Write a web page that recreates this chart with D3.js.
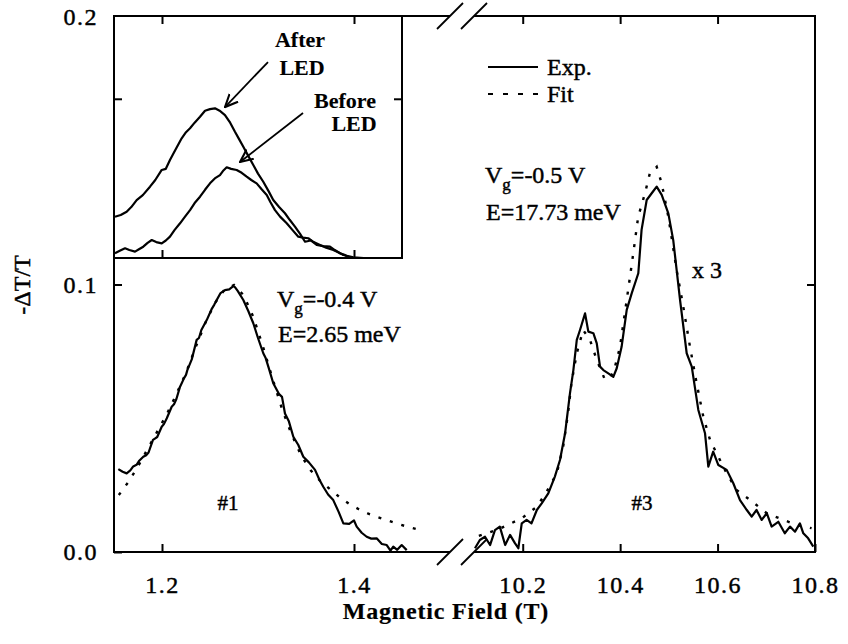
<!DOCTYPE html>
<html><head><meta charset="utf-8">
<script src="https://cdn.jsdelivr.net/npm/d3@7"></script>
<style>
body{margin:0;background:#fff;}
svg{display:block;font-family:"Liberation Serif","Times New Roman",serif;}
svg text{fill:#000;stroke:#000;stroke-width:0.45px;}
</style></head><body>
<svg id="c" width="848" height="644"></svg>
<script>
// ---------- data ----------
// Peak #1 (Vg=-0.4 V), experiment
const fieldA = [1.1545,1.1590,1.1632,1.1670,1.1700,1.1735,1.1760,1.1805,1.1835,1.1860,1.1906,1.1930,1.1950,1.1997,1.2020,1.2050,1.2101,1.2125,1.2150,1.2188,1.2230,1.2250,1.2264,1.2310,1.2361,1.2385,1.2410,1.2466,1.2520,1.2545,1.2570,1.2610,1.2656,1.2700,1.2743,1.2760,1.2790,1.2847,1.2900,1.2951,1.3000,1.3055,1.3080,1.3110,1.3159,1.3220,1.3250,1.3281,1.3320,1.3368,1.3420,1.3472,1.3530,1.3594,1.3640,1.3680,1.3730,1.3784,1.3840,1.3889,1.3950,1.4000,1.4028,1.4080,1.4132,1.4180,1.4236,1.4290,1.4341,1.4380,1.4409,1.4450,1.4497,1.4549];
const signalA = [0.0310,0.0300,0.0294,0.0305,0.0320,0.0326,0.0340,0.0356,0.0362,0.0372,0.0419,0.0425,0.0430,0.0468,0.0478,0.0500,0.0543,0.0552,0.0572,0.0618,0.0650,0.0662,0.0680,0.0720,0.0793,0.0800,0.0830,0.0867,0.0910,0.0925,0.0942,0.0968,0.0979,0.0982,0.0994,0.0990,0.0975,0.0942,0.0900,0.0855,0.0800,0.0743,0.0725,0.0690,0.0631,0.0590,0.0580,0.0518,0.0490,0.0431,0.0400,0.0356,0.0335,0.0307,0.0270,0.0244,0.0215,0.0194,0.0150,0.0107,0.0105,0.0118,0.0095,0.0072,0.0057,0.0050,0.0051,0.0030,0.0026,0.0005,0.0020,0.0008,0.0026,0.0007];
// Peak #1 fit
const fitFieldA = [1.155,1.165,1.175,1.185,1.195,1.205,1.215,1.225,1.235,1.245,1.255,1.265,1.275,1.285,1.295,1.305,1.315,1.325,1.335,1.345,1.355,1.365,1.375,1.385,1.395,1.405,1.415,1.425,1.435,1.445,1.455,1.465];
const fitA = [0.0213,0.0262,0.0320,0.0385,0.0450,0.0515,0.0590,0.0670,0.0765,0.0855,0.0930,0.0980,0.0998,0.0960,0.0880,0.0770,0.0650,0.0535,0.0440,0.0360,0.0305,0.0265,0.0235,0.0205,0.0180,0.0160,0.0143,0.0130,0.0118,0.0106,0.0095,0.0086];
// Peak #3 (Vg=-0.5 V, x3), experiment
const fieldB = [10.102,10.112,10.1226,10.133,10.143,10.153,10.164,10.174,10.184,10.191,10.198,10.208,10.218,10.229,10.239,10.2525,10.266,10.2765,10.287,10.297,10.304,10.311,10.3176,10.328,10.3347,10.345,10.352,10.3587,10.3655,10.3757,10.386,10.393,10.403,10.4135,10.4237,10.4373,10.444,10.4545,10.4648,10.475,10.4853,10.4989,10.509,10.523,10.5366,10.547,10.5605,10.5742,10.581,10.591,10.6016,10.6187,10.6323,10.646,10.660,10.670,10.680,10.6906,10.701,10.711,10.7247,10.738,10.7487,10.759,10.769,10.776,10.786,10.7965];
const signalB = [0.0014,0.0045,0.0057,0.0026,0.0082,0.0095,0.0026,0.0064,0.0033,0.0014,0.0107,0.0120,0.0107,0.0157,0.0182,0.0219,0.0282,0.0344,0.0444,0.0593,0.0680,0.0793,0.0830,0.0892,0.0824,0.0818,0.0780,0.0693,0.0680,0.0668,0.0655,0.0687,0.0767,0.0905,0.0967,0.1042,0.1204,0.1316,0.1341,0.1366,0.1335,0.1266,0.1166,0.0942,0.0743,0.0693,0.0531,0.0444,0.0319,0.0375,0.0325,0.0307,0.0257,0.0194,0.0157,0.0132,0.0157,0.0120,0.0145,0.0095,0.0113,0.0070,0.0095,0.0076,0.0107,0.0070,0.0051,0.0020];
// Peak #3 fit
const fitFieldB = [10.110,10.150,10.198,10.229,10.249,10.270,10.283,10.293,10.300,10.311,10.324,10.338,10.352,10.369,10.386,10.3997,10.4135,10.427,10.437,10.451,10.461,10.475,10.4853,10.499,10.516,10.5296,10.5434,10.557,10.5707,10.5845,10.598,10.6187,10.639,10.667,10.701,10.735,10.7625,10.793];
const fitB = [0.0060,0.0085,0.0126,0.0169,0.0225,0.0294,0.0394,0.0518,0.0631,0.0743,0.0830,0.0793,0.0718,0.0643,0.0668,0.0767,0.0942,0.1117,0.1253,0.1341,0.1416,0.1440,0.1378,0.1253,0.1054,0.0917,0.0767,0.0631,0.0506,0.0419,0.0369,0.0294,0.0232,0.0194,0.0145,0.0120,0.0101,0.0089];
// Inset (arbitrary units): after / before LED
const insetAfterField = [1.151,1.157,1.1632,1.168,1.1736,1.180,1.1875,1.193,1.1997,1.204,1.2083,1.214,1.2205,1.225,1.2292,1.234,1.2396,1.2448,1.250,1.2552,1.260,1.2656,1.271,1.2760,1.280,1.2847,1.290,1.2951,1.300,1.3055,1.311,1.3159,1.322,1.3281,1.333,1.3385,1.344,1.3490,1.355,1.3611,1.368,1.3750,1.380,1.3854,1.390,1.3958];
const insetAfter = [0.259,0.270,0.291,0.320,0.364,0.395,0.448,0.490,0.553,0.560,0.615,0.680,0.752,0.790,0.815,0.850,0.887,0.925,0.935,0.940,0.925,0.898,0.850,0.793,0.750,0.699,0.640,0.584,0.530,0.479,0.420,0.364,0.320,0.281,0.240,0.197,0.150,0.102,0.110,0.082,0.075,0.071,0.050,0.030,0.020,0.000];
const insetBeforeField = [1.151,1.156,1.1615,1.166,1.1719,1.176,1.1805,1.185,1.1893,1.194,1.1997,1.204,1.2083,1.213,1.2188,1.224,1.2292,1.234,1.2396,1.245,1.2500,1.255,1.2604,1.264,1.2674,1.272,1.2778,1.283,1.2882,1.293,1.2986,1.304,1.3091,1.313,1.3177,1.323,1.3299,1.336,1.3420,1.347,1.3524,1.358,1.3646,1.371,1.3784,1.384,1.3889,1.3993,1.4100];
const insetBefore = [0.030,0.045,0.061,0.050,0.040,0.055,0.071,0.095,0.113,0.100,0.092,0.110,0.134,0.175,0.218,0.260,0.301,0.345,0.385,0.430,0.469,0.500,0.521,0.550,0.570,0.560,0.553,0.535,0.511,0.490,0.469,0.430,0.396,0.350,0.301,0.260,0.218,0.175,0.134,0.128,0.124,0.100,0.082,0.065,0.050,0.035,0.019,0.004,0.000];
// ticks
const xTicksLow = [1.2, 1.4];
const xTicksHigh = [10.2, 10.4, 10.6, 10.8];
const yTicks = [0.0, 0.1, 0.2];

// ---------- scales ----------
const svg = d3.select("#c");
const xL = d3.scaleLinear().domain([1.15, 1.5]).range([114, 450]);
const xR = d3.scaleLinear().domain([10.1, 10.8]).range([474, 815]);
const y  = d3.scaleLinear().domain([0, 0.2]).range([552, 17]);
const xi = d3.scaleLinear().domain([1.15, 1.45]).range([114, 402]);
const yi = d3.scaleLinear().domain([0, 1.52]).range([258, 16]);
const Y0 = y(0), YT = 16, XL0 = xL.range()[0], XR1 = xR.range()[1];

const lw = 2;
const line = (sx, sy) => d3.line().x(d => sx(d[0])).y(d => sy(d[1]));
const zip = (a, b) => a.map((v, i) => [v, b[i]]);

// ---------- curves ----------
svg.append("path").datum(zip(fitFieldA, fitA)).attr("d", line(xL, y))
  .attr("fill","none").attr("stroke","#000").attr("stroke-width",2.4).attr("stroke-dasharray","3,9");
svg.append("path").datum(zip(fieldA, signalA)).attr("d", line(xL, y))
  .attr("fill","none").attr("stroke","#000").attr("stroke-width",2.2).attr("stroke-linejoin","round");
svg.append("path").datum(zip(fitFieldB, fitB)).attr("d", line(xR, y))
  .attr("fill","none").attr("stroke","#000").attr("stroke-width",2.4).attr("stroke-dasharray","3,9");
svg.append("path").datum(zip(fieldB, signalB)).attr("d", line(xR, y))
  .attr("fill","none").attr("stroke","#000").attr("stroke-width",2.2).attr("stroke-linejoin","round");

// ---------- frame with axis break ----------
const fr = svg.append("g").attr("stroke","#000").attr("stroke-width",lw).attr("fill","none");
fr.append("line").attr("x1",XL0).attr("x2",XL0).attr("y1",YT).attr("y2",Y0);
fr.append("line").attr("x1",XR1).attr("x2",XR1).attr("y1",YT).attr("y2",Y0);
[Y0, YT].forEach(yy => {
  fr.append("line").attr("x1",XL0-1).attr("x2",xL(1.5)).attr("y1",yy).attr("y2",yy);
  fr.append("line").attr("x1",xR(10.1)).attr("x2",XR1+1).attr("y1",yy).attr("y2",yy);
  [xL(1.5), xR(10.1)].forEach(xx => {
    fr.append("line").attr("x1",xx-13).attr("y1",yy+13).attr("x2",xx+13).attr("y2",yy-13).attr("stroke-width",1.8);
  });
});

// ---------- axes ----------
function styleAxis(g){ g.select(".domain").remove(); g.selectAll(".tick line").attr("stroke","#000").attr("stroke-width",lw); }
const tickFont = g => g.selectAll("text").attr("font-size",24).attr("fill","#000").attr("letter-spacing","1.5px").attr("font-family","Liberation Serif, serif");
svg.append("g").attr("transform",`translate(0,${Y0})`)
  .call(d3.axisBottom(xL).tickValues(xTicksLow).tickSize(-8).tickPadding(24).tickFormat(d3.format(".1f")))
  .call(styleAxis).call(tickFont);
svg.append("g").attr("transform",`translate(0,${Y0})`)
  .call(d3.axisBottom(xR).tickValues(xTicksHigh).tickSize(-8).tickPadding(24).tickFormat(d3.format(".1f")))
  .call(styleAxis).call(tickFont);
svg.append("g").attr("transform",`translate(0,${YT})`)
  .call(d3.axisTop(xL).tickValues(xTicksLow).tickSize(-8).tickFormat("")).call(styleAxis);
svg.append("g").attr("transform",`translate(0,${YT})`)
  .call(d3.axisTop(xR).tickValues(xTicksHigh.slice(0,3)).tickSize(-8).tickFormat("")).call(styleAxis);
svg.append("g").attr("transform",`translate(${XL0},0)`)
  .call(d3.axisLeft(y).tickValues(yTicks).tickSize(-8).tickPadding(16).tickFormat(d3.format(".1f")))
  .call(styleAxis).call(tickFont);
svg.append("g").attr("transform",`translate(${XR1},0)`)
  .call(d3.axisRight(y).tickValues([0.1]).tickSize(-8).tickFormat("")).call(styleAxis);

// axis titles
svg.append("text").attr("x",446).attr("y",619).attr("text-anchor","middle")
  .attr("font-size",24).attr("font-weight","bold").attr("letter-spacing","0.8px").style("stroke-width","0.2px").text("Magnetic Field (T)");
svg.append("text").attr("transform","translate(30,285) rotate(-90)").attr("text-anchor","middle")
  .attr("font-size",24).text("-ΔT/T");

// ---------- inset ----------
const ins = svg.append("g");
ins.append("rect").attr("x",xi.range()[0]).attr("y",yi.range()[1]).attr("width",xi.range()[1]-xi.range()[0])
  .attr("height",yi.range()[0]-yi.range()[1]).attr("fill","#fff").attr("stroke","#000").attr("stroke-width",lw);
ins.append("path").datum(zip(insetAfterField, insetAfter)).attr("d", line(xi, yi))
  .attr("fill","none").attr("stroke","#000").attr("stroke-width",2.2).attr("stroke-linejoin","round");
ins.append("path").datum(zip(insetBeforeField, insetBefore)).attr("d", line(xi, yi))
  .attr("fill","none").attr("stroke","#000").attr("stroke-width",2.2).attr("stroke-linejoin","round");
ins.append("g").attr("transform",`translate(0,${yi.range()[0]})`)
  .call(d3.axisBottom(xi).tickValues(xTicksLow).tickSize(-8).tickFormat("")).call(styleAxis);
ins.append("g").attr("transform",`translate(0,${YT})`)
  .call(d3.axisTop(xi).tickValues(xTicksLow).tickSize(-8).tickFormat("")).call(styleAxis);
ins.append("g").attr("transform",`translate(${xi.range()[0]},0)`)
  .call(d3.axisLeft(yi).tickValues([1]).tickSize(-8).tickFormat("")).call(styleAxis);
ins.append("g").attr("transform",`translate(${xi.range()[1]},0)`)
  .call(d3.axisRight(yi).tickValues([1]).tickSize(-8).tickFormat("")).call(styleAxis);

// arrows
const defs = svg.append("defs");
defs.append("marker").attr("id","ah").attr("viewBox","0 0 12 12").attr("refX",11).attr("refY",6)
  .attr("markerWidth",14).attr("markerHeight",14).attr("markerUnits","userSpaceOnUse").attr("orient","auto")
  .append("path").attr("d","M0,1 L11,6 L0,11").attr("fill","none").attr("stroke","#000").attr("stroke-width",1.8);
const arrows = [
  {from:[1.3104,1.231], to:[1.2656,0.948]},
  {from:[1.3469,0.911], to:[1.2813,0.603]}
];
arrows.forEach(a => ins.append("line").attr("x1",xi(a.from[0])).attr("y1",yi(a.from[1]))
  .attr("x2",xi(a.to[0])).attr("y2",yi(a.to[1])).attr("stroke","#000").attr("stroke-width",1.8).attr("marker-end","url(#ah)"));
const insetLabels = [
  {t:"After", x:300, y:47}, {t:"LED", x:302, y:75},
  {t:"Before", x:345, y:108}, {t:"LED", x:354, y:131}
];
insetLabels.forEach(l => ins.append("text").attr("x",l.x).attr("y",l.y).attr("text-anchor","middle")
  .attr("font-size",22).attr("font-weight","bold").style("stroke-width","0.1px").text(l.t));

// ---------- legend ----------
const lg = svg.append("g");
lg.append("line").attr("x1",488).attr("x2",538).attr("y1",67).attr("y2",67).attr("stroke","#000").attr("stroke-width",lw);
lg.append("line").attr("x1",488).attr("x2",538).attr("y1",94).attr("y2",94).attr("stroke","#000").attr("stroke-width",lw).attr("stroke-dasharray","5,10");
lg.append("text").attr("x",547).attr("y",75).attr("font-size",24).text("Exp.");
lg.append("text").attr("x",547).attr("y",102).attr("font-size",24).text("Fit");

// ---------- annotations ----------
function vg(x, yb, val){
  const t = svg.append("text").attr("x",x).attr("y",yb).attr("font-size",24);
  t.append("tspan").text("V");
  t.append("tspan").attr("dy",7).attr("font-size",17).text("g");
  t.append("tspan").attr("dy",-7).text("=" + val);
}
vg(485, 183, "-0.5 V");
svg.append("text").attr("x",486).attr("y",220).attr("font-size",24).text("E=17.73 meV");
vg(277, 307, "-0.4 V");
svg.append("text").attr("x",278).attr("y",342).attr("font-size",24).text("E=2.65 meV");
svg.append("text").attr("x",692).attr("y",278).attr("font-size",24).text("x 3");
svg.append("text").attr("x",228).attr("y",510).attr("text-anchor","middle").attr("font-size",21).text("#1");
svg.append("text").attr("x",642).attr("y",510).attr("text-anchor","middle").attr("font-size",21).text("#3");
</script>
</body></html>
